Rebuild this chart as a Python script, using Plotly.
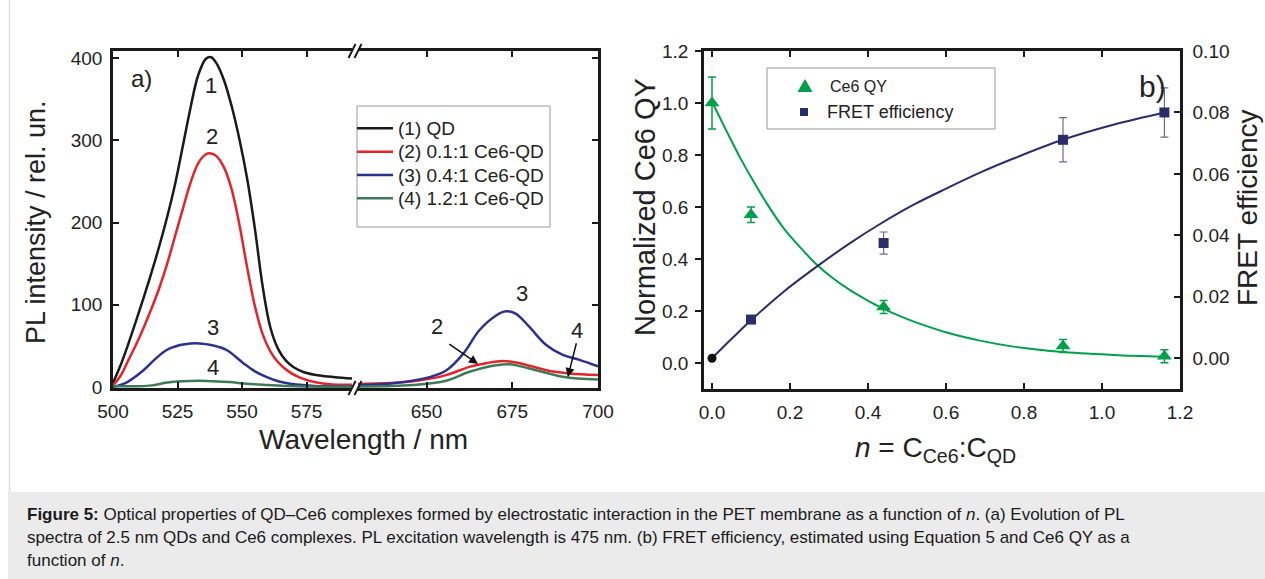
import plotly.graph_objects as go

W, H = 1265, 579
def fx(x): return x / W
def fy(y): return 1 - y / H

# ---------------- Panel a) PL spectra ----------------
# left segment (500-594 nm)
wl_qd_l = [500, 503, 506, 509, 512, 515, 518, 521, 524, 527, 530, 533, 536, 538, 540, 543, 546, 549, 552, 555, 558, 561, 564, 567, 570, 574, 580, 586, 594]
pl_qd_l = [5, 27, 53, 81, 110, 140, 172, 207, 246, 292, 339, 379, 399, 401, 394, 373, 341, 301, 253, 192, 122, 72, 46, 32, 24, 18, 14, 12, 10]

wl_r01_l = [500, 503, 506, 509, 512, 515, 518, 521, 524, 527, 530, 533, 536, 538, 540, 543, 546, 549, 552, 555, 558, 561, 564, 568, 572, 578, 585, 594]
pl_r01_l = [2, 14, 33, 52, 73, 96, 121, 150, 183, 216, 248, 272, 283, 284, 281, 267, 240, 197, 145, 98, 64, 43, 30, 19, 12, 6, 3, 3]

wl_r04_l = [500, 505, 511.7, 516, 520.8, 526, 530, 533.7, 538, 544, 550.5, 555, 559.6, 564, 568.6, 575, 580, 594]
pl_r04_l = [0, 5, 20, 33, 45, 51, 53, 53, 51, 45, 29, 19, 12, 7, 4, 2, 1, 1]

wl_r12_l = [500, 510, 515, 521, 527, 533, 538.8, 545, 552, 560, 568, 575, 585, 594]
pl_r12_l = [1, 1, 2, 5.5, 7, 7.5, 7, 6, 4, 2.5, 1.2, 0.6, 0.4, 0.4]

# right segment (630-700 nm)
wl_r01_r = [630, 646, 655.7, 662.5, 667.4, 672.2, 677.1, 684.9, 691.7, 700]
pl_r01_r = [3.6, 7, 14.5, 24.5, 29, 31.7, 29, 20.5, 16.5, 14.5]

wl_r04_r = [630, 641, 650.9, 655.7, 660.6, 665.4, 670.3, 673.2, 676.1, 680, 684.9, 689.7, 694.6, 700]
pl_r04_r = [2.4, 5, 12, 20, 40, 69, 87, 92, 89, 73, 51, 39, 33, 25]

wl_r12_r = [630, 646, 655.7, 662.5, 670.3, 674.2, 680, 689.7, 700]
pl_r12_r = [0.5, 2.4, 7.6, 18.5, 26.5, 27.7, 22.5, 12.5, 9]

series_names = ["(1) QD", "(2) 0.1:1 Ce6-QD", "(3) 0.4:1 Ce6-QD", "(4) 1.2:1 Ce6-QD"]
series_colors = ["#1a1a1a", "#e5232b", "#2b3191", "#3f7a58"]

ticks_a_left = [500, 525, 550, 575]
ticks_a_right = [650, 675, 700]
ticks_a_y = [0, 100, 200, 300, 400]

# ---------------- Panel b) ----------------
n_qy = [0.0, 0.1, 0.44, 0.9, 1.16]
qy = [1.0, 0.57, 0.215, 0.065, 0.026]
qy_err = [0.1, 0.03, 0.025, 0.025, 0.025]

n_fret = [0.1, 0.44, 0.9, 1.16]
fret = [0.0126, 0.0375, 0.0711, 0.0800]
fret_err = [0.0012, 0.0036, 0.0072, 0.0080]

n_zero = [0.0]
fret_zero = [0.0]

fit_qy_n = [0, 0.038, 0.072, 0.106, 0.14, 0.183, 0.226, 0.264, 0.311, 0.354, 0.397, 0.435, 0.482, 0.516, 0.602, 0.687, 0.773, 0.892, 1.029, 1.16]
fit_qy = [1.005, 0.89, 0.79, 0.70, 0.615, 0.52, 0.445, 0.385, 0.325, 0.28, 0.242, 0.212, 0.18, 0.16, 0.117, 0.086, 0.063, 0.043, 0.031, 0.024]

fit_fret_n = [0, 0.055, 0.102, 0.183, 0.264, 0.354, 0.431, 0.516, 0.602, 0.687, 0.773, 0.899, 1.029, 1.16]
fit_fret = [0, 0.0069, 0.0126, 0.0216, 0.0294, 0.0375, 0.0437, 0.0499, 0.0553, 0.0604, 0.0650, 0.0711, 0.0760, 0.0800]

ticks_b_x = [0, 0.2, 0.4, 0.6, 0.8, 1.0, 1.2]
ticks_b_y = [0.0, 0.2, 0.4, 0.6, 0.8, 1.0, 1.2]
ticks_b_y2 = [0.00, 0.02, 0.04, 0.06, 0.08, 0.10]

GREEN = "#00a04b"
NAVY = "#2b2d6b"
AX = "#1a1a1a"
FONT = "Liberation Sans, Arial, sans-serif"

fig = go.Figure()

left_sets = [(wl_qd_l, pl_qd_l), (wl_r01_l, pl_r01_l), (wl_r04_l, pl_r04_l), (wl_r12_l, pl_r12_l)]
right_sets = [None, (wl_r01_r, pl_r01_r), (wl_r04_r, pl_r04_r), (wl_r12_r, pl_r12_r)]
for i in range(4):
    xs, ys = left_sets[i]
    fig.add_trace(go.Scatter(x=xs, y=ys, mode="lines", name=series_names[i],
                             line=dict(color=series_colors[i], width=2.5, shape="spline", smoothing=1.0),
                             xaxis="x", yaxis="y", showlegend=False))
    if right_sets[i] is not None:
        xs, ys = right_sets[i]
        fig.add_trace(go.Scatter(x=xs, y=ys, mode="lines", name=series_names[i],
                                 line=dict(color=series_colors[i], width=2.5, shape="spline", smoothing=1.0),
                                 xaxis="x2", yaxis="y2", showlegend=False))

# panel b fits and points
fig.add_trace(go.Scatter(x=fit_qy_n, y=fit_qy, mode="lines", line=dict(color=GREEN, width=2, shape="spline"),
                         xaxis="x3", yaxis="y3", showlegend=False))
fig.add_trace(go.Scatter(x=n_qy, y=qy, mode="markers", name="Ce6 QY",
                         marker=dict(symbol="triangle-up", size=13, color=GREEN),
                         error_y=dict(type="data", array=qy_err, color=GREEN, thickness=1.5, width=4),
                         xaxis="x3", yaxis="y3", showlegend=False, cliponaxis=False))
fig.add_trace(go.Scatter(x=fit_fret_n, y=fit_fret, mode="lines", line=dict(color=NAVY, width=2, shape="spline"),
                         xaxis="x3", yaxis="y4", showlegend=False))
fig.add_trace(go.Scatter(x=n_fret, y=fret, mode="markers", name="FRET efficiency",
                         marker=dict(symbol="square", size=10, color=NAVY),
                         error_y=dict(type="data", array=fret_err, color="#6a6c92", thickness=1.2, width=4),
                         xaxis="x3", yaxis="y4", showlegend=False, cliponaxis=False))
fig.add_trace(go.Scatter(x=n_zero, y=fret_zero, mode="markers",
                         marker=dict(symbol="circle", size=9, color="#111111"),
                         xaxis="x3", yaxis="y4", showlegend=False, cliponaxis=False))

tickfont = dict(family=FONT, size=19, color="#222222")
common = dict(showline=True, linecolor=AX, linewidth=2.5, ticks="inside", ticklen=6, tickwidth=2,
              tickcolor=AX, showgrid=False, zeroline=False, tickfont=tickfont, automargin=False)

ya_dom = [fy(388), fy(51)]
yb_dom = [fy(389), fy(51)]
yrange_a = [-1.2, 408.5]

fig.update_layout(
    width=W, height=H, margin=dict(l=0, r=0, t=0, b=0, autoexpand=False),
    paper_bgcolor="white", plot_bgcolor="rgba(0,0,0,0)", showlegend=False,
    xaxis=dict(domain=[fx(113), fx(352)], range=[500, 592.6], anchor="y", mirror="ticks",
               tickmode="array", tickvals=ticks_a_left, ticklabelstandoff=4, **common),
    xaxis2=dict(domain=[fx(358), fx(598)], range=[630, 700], anchor="y", mirror="ticks",
                tickmode="array", tickvals=ticks_a_right, ticklabelstandoff=4, **common),
    yaxis=dict(domain=ya_dom, range=yrange_a, anchor="x", tickmode="array", tickvals=ticks_a_y,
               ticklabelstandoff=4, **common),
    yaxis2=dict(domain=ya_dom, range=yrange_a, anchor="x2", side="right", tickmode="array",
                tickvals=ticks_a_y, showticklabels=False, **common),
    xaxis3=dict(domain=[fx(704), fx(1180)], range=[-0.0205, 1.2], anchor="y3", mirror="ticks",
                tickmode="array", tickvals=ticks_b_x, tickformat=".1f", ticklabelstandoff=4, **common),
    yaxis3=dict(domain=yb_dom, range=[-0.1, 1.2], anchor="x3", tickmode="array", tickvals=ticks_b_y,
                tickformat=".1f", ticklabelstandoff=3,
                **{**common, "ticks": "outside"}),
    yaxis4=dict(domain=yb_dom, range=[-0.01, 0.10], anchor="x3", overlaying="y3", side="right",
                tickmode="array", tickvals=ticks_b_y2, tickformat=".2f", ticklabelstandoff=6, **common),
    yaxis5=dict(domain=yb_dom, range=[-0.1, 1.2], anchor="x3", overlaying="y3", side="left",
                tickmode="array", tickvals=ticks_b_y, showticklabels=False,
                **{**common, "showline": False}),
)

shapes = []
annotations = []

def note(x, y, text, size, angle=0, xanchor="center", ref=("paper", "paper")):
    return dict(xref=ref[0], yref=ref[1], x=x, y=y, text=text, showarrow=False, textangle=angle,
                xanchor=xanchor, yanchor="middle", font=dict(family=FONT, size=size, color="#222222"))

# outer frame line and caption box
shapes.append(dict(type="line", xref="paper", yref="paper", x0=fx(9.5), x1=fx(9.5), y0=fy(0), y1=fy(492),
                   line=dict(color="#dddddd", width=1.5)))
shapes.append(dict(type="rect", xref="paper", yref="paper", x0=fx(8), x1=1, y0=0, y1=fy(492),
                   fillcolor="#ebebeb", line=dict(width=0), layer="below"))

# axis break marks
for ybrk in (51, 388):
    for cx in (352, 358):
        shapes.append(dict(type="line", xref="paper", yref="paper",
                           x0=fx(cx - 3.5), y0=fy(ybrk + 7), x1=fx(cx + 3.5), y1=fy(ybrk - 7),
                           line=dict(color=AX, width=2)))

# legend a
shapes.append(dict(type="rect", xref="paper", yref="paper", x0=fx(357), x1=fx(550), y0=fy(227), y1=fy(106),
                   line=dict(color="#999999", width=1), fillcolor="white"))
rows_a = [128.3, 151.7, 175, 198.3]
for i in range(4):
    shapes.append(dict(type="line", xref="paper", yref="paper", x0=fx(357), x1=fx(393),
                       y0=fy(rows_a[i]), y1=fy(rows_a[i]), line=dict(color=series_colors[i], width=2.5)))
    annotations.append(note(fx(396), fy(rows_a[i]), series_names[i], 19, xanchor="left"))

# legend b
shapes.append(dict(type="rect", xref="paper", yref="paper", x0=fx(767), x1=fx(995), y0=fy(129), y1=fy(68),
                   line=dict(color="#999999", width=1), fillcolor="white"))
shapes.append(dict(type="path", xref="paper", yref="paper",
                   path=f"M {fx(797.5)},{fy(92)} L {fx(812.5)},{fy(92)} L {fx(805)},{fy(79)} Z",
                   fillcolor=GREEN, line=dict(width=0)))
shapes.append(dict(type="rect", xref="paper", yref="paper", x0=fx(800), x1=fx(808), y0=fy(116), y1=fy(108),
                   fillcolor=NAVY, line=dict(width=0)))
annotations.append(note(fx(828), fy(86), "Ce6 QY", 16, xanchor="left"))
annotations.append(note(fx(825), fy(112), "FRET efficiency", 18, xanchor="left"))

# curve labels panel a
for (xv, yv, t) in [(538, 367, "1"), (538.4, 304, "2"), (538.8, 72, "3"), (538.8, 24, "4")]:
    annotations.append(note(xv, yv, t, 22, ref=("x", "y")))
annotations.append(note(677.8, 114, "3", 22, ref=("x2", "y2")))
annotations.append(note(653, 73, "2", 22, ref=("x2", "y2")))
annotations.append(note(693.9, 69, "4", 22, ref=("x2", "y2")))
# arrows
annotations.append(dict(xref="x2", yref="y2", x=665, y=28, axref="x2", ayref="y2", ax=656.2, ay=53.5,
                        text="", showarrow=True, arrowhead=2, arrowsize=1.2, arrowwidth=1.5, arrowcolor="#111111"))
annotations.append(dict(xref="x2", yref="y2", x=691.2, y=12, axref="x2", ayref="y2", ax=693.8, ay=55,
                        text="", showarrow=True, arrowhead=2, arrowsize=1.2, arrowwidth=1.5, arrowcolor="#111111"))

# panel labels
annotations.append(note(fx(141), fy(78), "a)", 24))
annotations.append(note(fx(1152), fy(87), "b)", 30))

# axis titles
annotations.append(note(fx(36), fy(222), "PL intensity / rel. un.", 27, angle=-90))
annotations.append(note(fx(363), fy(439), "Wavelength / nm", 28))
annotations.append(note(fx(645), fy(207), "Normalized Ce6 QY", 29, angle=-90))
annotations.append(note(fx(1247), fy(208), "FRET efficiency", 28, angle=-90))
annotations.append(note(fx(936), fy(449), "<i>n</i> = C<sub>Ce6</sub>:C<sub>QD</sub>", 28))

# caption
cap_lines = [
    "<b>Figure 5:</b> Optical properties of QD\u2013Ce6 complexes formed by electrostatic interaction in the PET membrane as a function of <i>n</i>. (a) Evolution of PL",
    "spectra of 2.5 nm QDs and Ce6 complexes. PL excitation wavelength is 475 nm. (b) FRET efficiency, estimated using Equation 5 and Ce6 QY as a",
    "function of <i>n</i>.",
]
for yy, t in zip([514, 537, 560], cap_lines):
    a = note(fx(25), fy(yy), t, 17, xanchor="left")
    a["font"]["color"] = "#1a1a1a"
    annotations.append(a)

fig.update_layout(shapes=shapes, annotations=annotations)
fig.write_html("out.html", config={"displayModeBar": False},
               post_script="document.body.style.margin='0';document.body.style.overflow='hidden';")
